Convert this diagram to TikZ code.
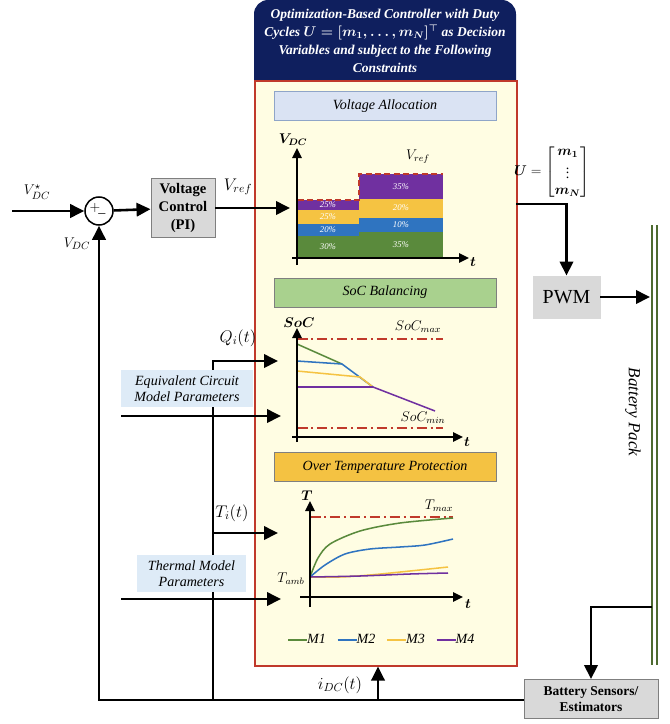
\documentclass[tikz,border=0pt]{standalone}
\usepackage{fontspec}
\setmainfont{Liberation Serif}
\usepackage{amsmath}
\usetikzlibrary{positioning,arrows.meta}
\definecolor{cnavy}{HTML}{0F1F5E}
\definecolor{cred}{HTML}{C0392B}
\definecolor{cpaper}{HTML}{FFFDE3}
\definecolor{clav}{HTML}{DAE3F3}
\definecolor{clavd}{HTML}{8FA5C8}
\definecolor{csoc}{HTML}{A9D18E}
\definecolor{cotp}{HTML}{F4C242}
\definecolor{cgrayf}{HTML}{D9D9D9}
\definecolor{cgrayd}{HTML}{7F7F7F}
\definecolor{cpar}{HTML}{DEEBF7}
\definecolor{cmone}{HTML}{5A8A3C}
\definecolor{cmtwo}{HTML}{2F74C0}
\definecolor{cmthree}{HTML}{F5C342}
\definecolor{cmfour}{HTML}{7030A0}
\definecolor{cbat}{HTML}{4E6B30}
\tikzset{
  sig/.style={line width=2.2pt, -{Triangle[length=4.2mm,width=4mm]}},
  wire/.style={line width=2.2pt},
  axis/.style={line width=1.7pt, -{Triangle[length=3mm,width=2.8mm]}},
  banner/.style={draw=cgrayd, line width=0.6pt, minimum width=6.66cm, minimum height=0.87cm, font=\fontsize{12}{14}\selectfont\itshape},
  graybox/.style={draw=cgrayd, fill=cgrayf, line width=0.8pt, align=center, inner sep=1pt},
  param/.style={fill=cpar, align=center, inner sep=1pt, font=\fontsize{12}{14}\selectfont\itshape},
  lbl/.style={font=\fontsize{12}{14}\selectfont, inner sep=1pt},
  siglbl/.style={font=\fontsize{14}{16}\selectfont, inner sep=1pt},
  pct/.style={text=white, font=\fontsize{7.5}{8}\selectfont\itshape, inner sep=0pt},
  limit/.style={draw=cred, line width=1.4pt, dash pattern=on 9pt off 3pt on 2pt off 3pt},
  curve/.style={line width=1.3pt},
}
\begin{document}
\begin{tikzpicture}[x=0.03cm, y=-0.03cm]
  \useasboundingbox (0,0) rectangle (670,724);
  % controller block
  \fill[cnavy] (254,90) [rounded corners=12] -- (254,0) -- (516,0) [sharp corners] -- (516,90) -- cycle;
  \node[text=white, align=center, font=\fontsize{11.5}{15.5}\selectfont\bfseries\itshape] (hdr) at (385,41)
    {Optimization-Based Controller with Duty\\Cycles $\boldsymbol{U=[m_1,\dots,m_N]^{\top}}$ as Decision\\Variables and subject to the Following\\Constraints};
  \node[draw=cred, fill=cpaper, line width=1.3pt, minimum width=7.86cm, minimum height=17.55cm, anchor=north west] (ctrl) at (254,80) {};
  \node[banner, fill=clav, draw=clavd] (va) at (385,106) {Voltage Allocation};
  \node[banner, fill=csoc] (soc) at (385,292.5) {SoC Balancing};
  \node[banner, fill=cotp] (otp) at (385,467) {Over Temperature Protection};

  % voltage allocation chart
  \fill[cmone] (298,236) rectangle (359,257);
  \fill[cmtwo] (298,224) rectangle (359,236);
  \fill[cmthree] (298,210) rectangle (359,224);
  \fill[cmfour] (298,200) rectangle (359,210);
  \fill[cmone] (359,232) rectangle (443,257);
  \fill[cmtwo] (359,218) rectangle (443,232);
  \fill[cmthree] (359,199) rectangle (443,218);
  \fill[cmfour] (359,174) rectangle (443,199);
  \foreach \y/\p [count=\i] in {247/30,230/20,217/25,205/25}
    \node[pct] (pl\i) at (328,\y) {\p\%};
  \foreach \y/\p [count=\i] in {245/35,225/10,208/20,187/35}
    \node[pct] (pr\i) at (401,\y) {\p\%};
  \draw[cred, line width=1.5pt, dash pattern=on 5pt off 3pt] (298,200) -- (359,200) -- (359,174) -- (443,174);
  \draw[axis] (297,265) -- (297,148);
  \draw[axis] (292,258) -- (469,258);
  \node[lbl] (vdcax) at (293,140) {$\boldsymbol{V_{DC}}$};
  \node[lbl] (tax1) at (473,262) {$\boldsymbol{t}$};
  \node[lbl] (vrefc) at (418,157) {$V_{ref}$};

  % SoC chart
  \draw[limit] (297,339) -- (443,339);
  \draw[limit] (297,428) -- (443,428);
  \draw[curve, cmone] (297,344) -- (342,364);
  \draw[curve, cmtwo] (297,361) -- (342,364) -- (373,387);
  \draw[curve, cmthree] (297,371) -- (360,377) -- (373,387);
  \draw[curve, cmfour] (297,387) -- (373,387) -- (435,411);
  \draw[axis] (297,442) -- (297,328);
  \draw[axis] (292,437) -- (463,437);
  \node[lbl] (socax) at (299,323) {$\boldsymbol{SoC}$};
  \node[lbl] (tax2) at (467,442) {$\boldsymbol{t}$};
  \node[lbl] (socmax) at (418,327) {$SoC_{max}$};
  \node[lbl] (socmin) at (423,418) {$SoC_{min}$};

  % temperature chart
  \draw[limit] (310,517) -- (453,517);
  \draw[curve, cmone] plot[smooth] coordinates {(310,577) (318,558) (330,544) (360,531) (400,523) (453,518)};
  \draw[curve, cmtwo] plot[smooth] coordinates {(310,577) (325,565) (345,554) (370,549) (400,547) (425,545) (453,539)};
  \draw[curve, cmthree] plot[smooth] coordinates {(310,577) (340,577) (370,575) (410,571) (448,567)};
  \draw[curve, cmfour] plot[smooth] coordinates {(310,577) (360,576) (410,574) (448,573)};
  \draw[axis] (310,607) -- (310,501);
  \draw[axis] (300,597) -- (463,597);
  \node[lbl] (tempax) at (307,496) {$\boldsymbol{T}$};
  \node[lbl] (tax3) at (468,604) {$\boldsymbol{t}$};
  \node[lbl] (tmax) at (439,506) {$T_{max}$};
  \node[lbl] (tamb) at (291,579) {$T_{amb}$};
  \foreach \c/\m [count=\i] in {cmone/M1,cmtwo/M2,cmthree/M3,cmfour/M4} {
    \draw[\c, line width=2.4pt] (288+49.5*\i-49.5,640) -- (307+49.5*\i-49.5,640);
    \node[lbl, anchor=west, inner sep=0pt, font=\fontsize{12}{14}\selectfont\itshape] (leg\i) at (307+49.5*\i-49.5,639) {\m};
  }

  % loop blocks
  \node[circle, draw, line width=1.3pt, fill=white, minimum size=0.84cm, inner sep=0pt] (sum) at (99,211) {};
  \node[lbl, font=\fontsize{12}{14}\selectfont] (plus) at (95,208) {$+$};
  \node[lbl, font=\fontsize{12}{14}\selectfont] (minus) at (102,213) {$\_$};
  \node[graybox, minimum width=1.92cm, minimum height=1.77cm, font=\fontsize{12.5}{15.5}\selectfont\bfseries] (vc) at (183,208) {Voltage\\Control\\(PI)};
  \node[graybox, draw=cgrayf, minimum width=2.01cm, minimum height=1.26cm, font=\fontsize{17}{20}\selectfont] (pwm) at (566.5,297) {PWM};
  \node[graybox, minimum width=4.02cm, minimum height=1.17cm, font=\fontsize{11.5}{14}\selectfont\bfseries] (bsens) at (591,699) {Battery Sensors/\\Estimators};
  \node[rotate=-90, font=\fontsize{14.5}{17}\selectfont\itshape] (bpack) at (633,412) {Battery Pack};
  \node[lbl, inner sep=0pt] (ulbl) at (552,172) {$\boldsymbol{U}=\begin{bmatrix}\boldsymbol{m_1}\\ \vdots\\ \boldsymbol{m_N}\end{bmatrix}$};

  % battery pack rails
  \draw[cbat, line width=1.8pt] (652,225) -- (652,665);
  \draw[cbat, line width=1.8pt] (657,225) -- (657,665);

  % named points
  \coordinate (vin) at (12,211);
  \coordinate (vrefin) at (290,208);
  \coordinate (uout) at (516,204);
  \coordinate (batin) at (650,297);
  \coordinate (bout) at (652,607);
  \coordinate (tapq) at (213,700);
  \coordinate (qin) at (278,361);
  \coordinate (tapt) at (213,533);
  \coordinate (tin) at (278,533);
  \coordinate (ecmL) at (121,416);
  \coordinate (ecmR) at (281,416);
  \coordinate (thmL) at (121,599);
  \coordinate (thmR) at (281,599);
  \coordinate (itap) at (378,700);

  % signals
  \draw[sig] (vin) -- (sum);
  \draw[sig] (sum) -- (vc);
  \draw[sig] (vc.east |- vrefin) -- (vrefin);
  \draw[sig] (uout) -| (pwm);
  \draw[sig] (pwm) -- (batin);
  \draw[sig] (bout) -| (bsens);
  \draw[sig] (bsens.west |- tapq) -| (sum);
  \draw[sig] (tapq) |- (qin);
  \draw[sig] (tapt) -- (tin);
  \draw[sig] (ecmL) -- (ecmR);
  \draw[sig] (thmL) -- (thmR);
  \draw[sig] (itap) -- (itap |- ctrl.south);

  \node[param, minimum width=3.96cm, minimum height=1.11cm] (ecm) at (187,388.5) {Equivalent Circuit\\Model Parameters};
  \node[param, minimum width=3.27cm, minimum height=1.11cm] (thm) at (191.5,573.5) {Thermal Model\\Parameters};

  % signal labels
  \node[siglbl, font=\fontsize{13}{15}\selectfont] (lvdcs) at (37,192) {$V_{DC}^{\star}$};
  \node[siglbl, font=\fontsize{13}{15}\selectfont] (lvdc) at (77,244) {$V_{DC}$};
  \node[siglbl] (lvref) at (238,187) {$V_{ref}$};
  \node[siglbl] (lq) at (238,338) {$Q_i(t)$};
  \node[siglbl] (lt) at (232,513) {$T_i(t)$};
  \node[siglbl] (lidc) at (340,685) {$i_{DC}(t)$};
\end{tikzpicture}
\end{document}
